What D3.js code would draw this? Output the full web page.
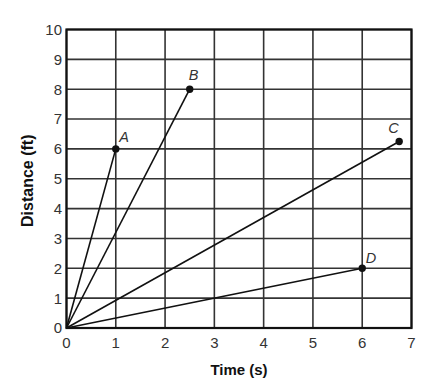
<!DOCTYPE html>
<html>
<head>
<meta charset="utf-8">
<script src="https://cdn.jsdelivr.net/npm/d3@7"></script>
<style>
  body { margin: 0; background: #fff; }
  text { font-family: "Liberation Sans", Arial, sans-serif; fill: #222; }
  .tick-label { font-size: 15px; fill: #333; }
  .axis-title { font-weight: bold; fill: #111; }
  .pt-label { font-size: 14.5px; font-style: italic; fill: #333; }
  .grid line { stroke: #333; stroke-width: 1.6px; }
  .frame { fill: none; stroke: #111; stroke-width: 2.2px; }
  .seg { stroke: #111; stroke-width: 1.6px; }
</style>
</head>
<body>
<svg width="434" height="388"></svg>
<script>
// values
var names = ["A", "B", "C", "D"];
var times = [1, 2.5, 6.75, 6];
var distances = [6, 8, 6.25, 2];
var xTicks = [0, 1, 2, 3, 4, 5, 6, 7];
var yTicks = [0, 1, 2, 3, 4, 5, 6, 7, 8, 9, 10];

var svg = d3.select("svg"),
    margin = {top: 29.5, right: 22.5, bottom: 60, left: 66.5},
    width = +svg.attr("width") - margin.left - margin.right,
    height = +svg.attr("height") - margin.top - margin.bottom,
    g = svg.append("g").attr("transform", "translate(" + margin.left + "," + margin.top + ")");

var x = d3.scaleLinear().domain([0, 7]).range([0, width]);
var y = d3.scaleLinear().domain([0, 10]).range([height, 0]);

var grid = g.append("g").attr("class", "grid");
grid.selectAll(".vx").data(xTicks).enter().append("line")
    .attr("x1", function(d) { return x(d); })
    .attr("x2", function(d) { return x(d); })
    .attr("y1", 0).attr("y2", height);
grid.selectAll(".hy").data(yTicks).enter().append("line")
    .attr("x1", 0).attr("x2", width)
    .attr("y1", function(d) { return y(d); })
    .attr("y2", function(d) { return y(d); });

g.append("rect").attr("class", "frame")
    .attr("width", width).attr("height", height);

// tick labels
g.selectAll(".xl").data(xTicks).enter().append("text")
    .attr("class", "tick-label")
    .attr("x", function(d) { return x(d); })
    .attr("y", height + 20)
    .attr("text-anchor", "middle")
    .text(function(d) { return d; });

g.selectAll(".yl").data(yTicks).enter().append("text")
    .attr("class", "tick-label")
    .attr("x", -4.5)
    .attr("y", function(d) { return y(d); })
    .attr("dy", "0.36em")
    .attr("text-anchor", "end")
    .text(function(d) { return d; });

// axis titles
g.append("text")
    .attr("class", "axis-title")
    .style("font-size", "15px")
    .attr("x", x(3.5))
    .attr("y", height + 47)
    .attr("text-anchor", "middle")
    .text("Time (s)");

g.append("text")
    .attr("class", "axis-title")
    .style("font-size", "16px")
    .attr("transform", "translate(-34," + (height / 2 + 2) + ") rotate(-90)")
    .attr("text-anchor", "middle")
    .text("Distance (ft)");

// lines from origin
var pts = names.map(function(n, i) { return {name: n, t: times[i], d: distances[i]}; });

g.selectAll(".seg").data(pts).enter().append("line")
    .attr("class", "seg")
    .attr("x1", x(0)).attr("y1", y(0))
    .attr("x2", function(d) { return x(d.t); })
    .attr("y2", function(d) { return y(d.d); });

g.selectAll(".dot").data(pts).enter().append("circle")
    .attr("cx", function(d) { return x(d.t); })
    .attr("cy", function(d) { return y(d.d); })
    .attr("r", 3.7)
    .attr("fill", "#111");

// label nudges relative to each point
var nudge = {A: [3.5, -7], B: [-1, -9], C: [-11, -8], D: [3.5, -5]};
g.selectAll(".pt-label").data(pts).enter().append("text")
    .attr("class", "pt-label")
    .attr("x", function(d) { return x(d.t) + nudge[d.name][0]; })
    .attr("y", function(d) { return y(d.d) + nudge[d.name][1]; })
    .text(function(d) { return d.name; });
</script>
</body>
</html>
